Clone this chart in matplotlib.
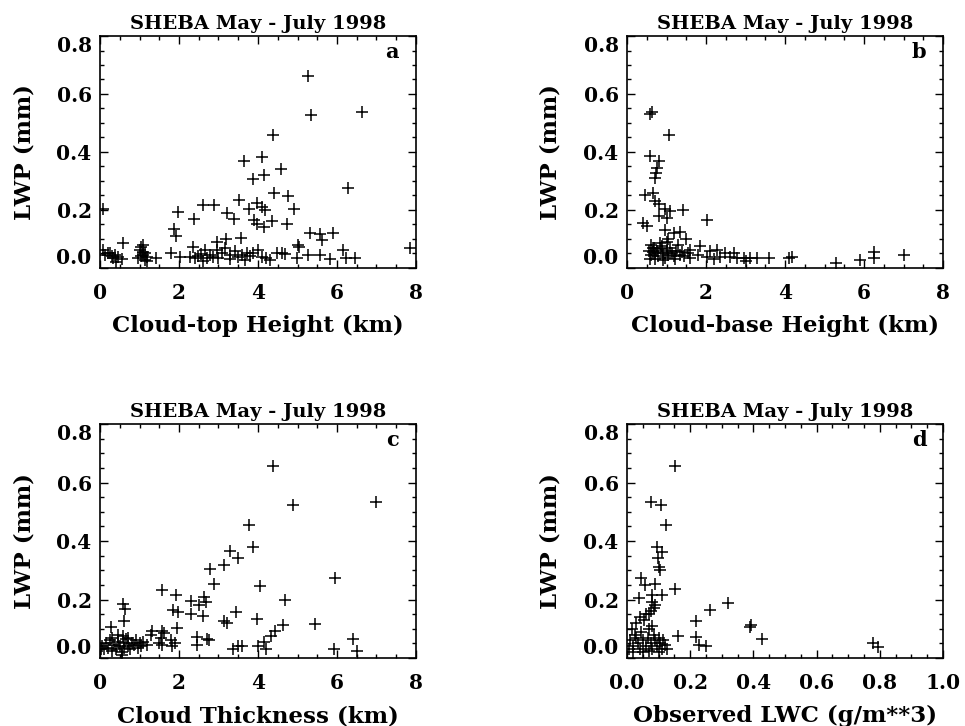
import matplotlib
matplotlib.use('Agg')
import matplotlib.pyplot as plt
from matplotlib.ticker import MultipleLocator, FormatStrFormatter

title_text = 'SHEBA May - July 1998'
y_label = 'LWP (mm)'
x_labels = ['Cloud-top Height (km)', 'Cloud-base Height (km)',
            'Cloud Thickness (km)', 'Observed LWC (g/m**3)']
panel_letters = ['a', 'b', 'c', 'd']

# ---- panel a: cloud-top height (km) vs LWP (mm)
top_height = [5.27, 5.34, 6.64, 4.39, 3.65, 4.09, 4.57, 3.88, 4.14, 6.29, 0.08, 1.98, 2.62, 2.89,
              2.38, 3.52, 3.76, 3.98, 4.09, 4.18, 4.41, 4.75, 4.92, 3.21, 3.39, 3.91, 3.97, 4.14,
              4.35, 4.73, 1.88, 1.92, 5.32, 5.57, 5.61, 5.89, 3.57, 3.19, 2.95, 2.35, 0.59, 1.10,
              5.02, 7.85,
              0.08, 0.25, 0.38, 0.46, 0.34, 0.13, 0.55, 1.01, 1.10, 0.97, 1.18, 1.05, 1.14, 1.43,
              1.81, 2.03, 2.28, 2.41, 2.49, 2.66, 2.78, 2.87, 2.70, 2.95, 3.08, 3.16, 3.29, 3.42,
              3.50, 3.67, 3.71, 3.88, 4.01, 4.09, 4.30, 4.47, 4.60, 4.68, 4.98, 5.05, 5.27, 5.57,
              5.82, 6.16, 6.24, 6.46, 1.05, 1.20, 0.40, 2.60, 3.30, 3.00, 3.80, 0.30, 1.08, 2.55,
              3.60, 4.20, 0.20, 1.15]
top_lwp = [0.661, 0.528, 0.537, 0.458, 0.369, 0.383, 0.343, 0.308, 0.321, 0.277, 0.204, 0.192,
           0.216, 0.216, 0.170, 0.236, 0.204, 0.225, 0.209, 0.201, 0.257, 0.248, 0.204, 0.190,
           0.170, 0.164, 0.152, 0.141, 0.163, 0.152, 0.134, 0.111, 0.120, 0.118, 0.097, 0.120,
           0.103, 0.100, 0.091, 0.074, 0.086, 0.080, 0.080, 0.069,
           0.062, 0.053, 0.045, 0.039, 0.034, 0.045, 0.030, 0.062, 0.045, 0.034, 0.039, 0.074,
           0.053, 0.034, 0.051, 0.039, 0.039, 0.034, 0.042, 0.062, 0.045, 0.039, 0.034, 0.062,
           0.051, 0.068, 0.045, 0.057, 0.039, 0.028, 0.051, 0.051, 0.062, 0.039, 0.028, 0.051,
           0.053, 0.047, 0.034, 0.074, 0.045, 0.045, 0.030, 0.062, 0.034, 0.034, 0.040, 0.025,
           0.020, 0.025, 0.030, 0.035, 0.040, 0.040, 0.055, 0.048, 0.045, 0.036, 0.050, 0.028]

# ---- panel b: cloud-base height (km) vs LWP (mm)
base_height = [0.57, 0.63, 1.07, 0.57, 0.80, 0.75, 0.74, 0.71, 0.46, 0.67, 0.71, 0.82, 0.96, 1.09,
               1.43, 2.02, 0.80, 1.01, 0.41, 0.50, 0.96, 1.18, 1.35, 1.50, 1.05, 0.84, 1.00,
               0.55, 0.62, 0.68, 0.72, 0.78, 0.85, 0.90, 0.95, 1.00, 1.05, 1.10, 1.15, 1.20, 1.25,
               1.30, 1.35, 1.40, 0.60, 0.70, 0.88, 1.45, 0.75, 0.65, 1.55, 1.60,
               1.85, 1.60, 2.11, 2.28, 2.49, 2.02, 2.36, 2.61, 2.78, 2.95, 3.12, 3.29, 3.59, 4.18,
               5.28, 5.91, 6.25, 6.25, 7.01, 2.20, 1.80, 2.70, 3.00, 4.10, 0.58, 0.92, 1.22, 0.66]
base_lwp = [0.531, 0.537, 0.458, 0.387, 0.369, 0.346, 0.329, 0.311, 0.251, 0.257, 0.230, 0.219,
            0.205, 0.196, 0.201, 0.164, 0.178, 0.172, 0.155, 0.144, 0.132, 0.120, 0.123, 0.100,
            0.100, 0.086, 0.088,
            0.060, 0.045, 0.070, 0.050, 0.040, 0.065, 0.050, 0.035, 0.060, 0.045, 0.070, 0.050,
            0.040, 0.060, 0.080, 0.045, 0.055, 0.080, 0.030, 0.075, 0.040, 0.060, 0.055, 0.050,
            0.035,
            0.076, 0.062, 0.057, 0.062, 0.053, 0.039, 0.039, 0.039, 0.034, 0.034, 0.034, 0.034,
            0.034, 0.039, 0.016, 0.028, 0.054, 0.034, 0.045, 0.030, 0.045, 0.050, 0.025, 0.035,
            0.030, 0.028, 0.032, 0.068]

# ---- panel c: cloud thickness (km) vs LWP (mm)
thickness = [4.37, 4.89, 6.99, 3.78, 3.88, 3.30, 3.49, 3.15, 2.79, 2.88, 5.96, 4.05, 1.57, 1.92,
             2.64, 2.68, 2.30, 2.51, 4.69, 0.59, 0.64, 1.86, 1.98, 2.30, 2.60, 3.44, 3.97, 3.15,
             3.22, 0.60, 0.28, 4.64, 5.45, 1.95, 1.32, 1.57, 4.44, 4.33, 6.41, 5.92, 6.50, 2.46,
             2.46, 2.72, 2.76, 1.50, 1.58, 1.82, 3.36, 3.50, 3.60, 4.00, 4.15, 4.20,
             0.05, 0.10, 0.15, 0.20, 0.25, 0.30, 0.35, 0.40, 0.45, 0.50, 0.55, 0.60, 0.62, 0.65,
             0.70, 0.75, 0.80, 0.85, 0.90, 0.95, 1.00, 1.05, 1.10, 1.20, 0.58, 0.45, 0.30, 0.70,
             1.30, 1.55, 1.62, 1.80, 1.90, 0.02, 0.55]
thick_lwp = [0.658, 0.523, 0.534, 0.453, 0.380, 0.366, 0.343, 0.318, 0.303, 0.253, 0.272, 0.245,
             0.234, 0.214, 0.210, 0.193, 0.195, 0.182, 0.199, 0.185, 0.166, 0.164, 0.158, 0.149,
             0.145, 0.156, 0.133, 0.126, 0.118, 0.126, 0.106, 0.114, 0.116, 0.101, 0.091, 0.091,
             0.091, 0.074, 0.066, 0.031, 0.025, 0.072, 0.043, 0.066, 0.060, 0.050, 0.045, 0.040,
             0.030, 0.040, 0.040, 0.040, 0.055, 0.030,
             0.040, 0.030, 0.050, 0.035, 0.060, 0.025, 0.045, 0.030, 0.055, 0.040, 0.020, 0.050,
             0.035, 0.065, 0.040, 0.030, 0.050, 0.045, 0.060, 0.035, 0.050, 0.040, 0.055, 0.045,
             0.075, 0.080, 0.070, 0.070, 0.080, 0.070, 0.085, 0.060, 0.050, 0.030, 0.010]

# ---- panel d: observed LWC (g/m**3) vs LWP (mm)
lwc = [0.151, 0.075, 0.107, 0.124, 0.096, 0.112, 0.099, 0.101, 0.103, 0.043, 0.057, 0.089,
       0.151, 0.112, 0.078, 0.038, 0.080, 0.085, 0.070, 0.090, 0.321, 0.262, 0.217, 0.389,
       0.391, 0.428, 0.161, 0.219, 0.228, 0.249, 0.780, 0.795,
       0.005, 0.010, 0.015, 0.020, 0.025, 0.030, 0.035, 0.040, 0.045, 0.050, 0.055, 0.060,
       0.065, 0.070, 0.075, 0.080, 0.085, 0.090, 0.095, 0.100, 0.105, 0.110, 0.115, 0.120,
       0.060, 0.075, 0.040, 0.020, 0.050, 0.100, 0.030, 0.070, 0.125, 0.080]
lwc_lwp = [0.655, 0.534, 0.523, 0.455, 0.380, 0.364, 0.343, 0.310, 0.300, 0.274, 0.251, 0.253,
           0.236, 0.216, 0.214, 0.205, 0.190, 0.170, 0.150, 0.180, 0.187, 0.164, 0.126, 0.106,
           0.112, 0.066, 0.074, 0.072, 0.043, 0.040, 0.052, 0.037,
           0.030, 0.060, 0.100, 0.040, 0.080, 0.120, 0.050, 0.030, 0.090, 0.060, 0.130, 0.040,
           0.070, 0.100, 0.050, 0.030, 0.080, 0.060, 0.040, 0.070, 0.050, 0.030, 0.060, 0.045,
           0.150, 0.160, 0.140, 0.020, 0.020, 0.020, 0.070, 0.025, 0.030, 0.110]

panels = [(top_height, top_lwp), (base_height, base_lwp), (thickness, thick_lwp), (lwc, lwc_lwp)]

FONT = ['DejaVu Serif']
W, H = 965, 726
fig = plt.figure(figsize=(W / 100, H / 100), dpi=100)

col_left = [100, 627]
row_top = [(36, 268), (424, 658)]
ax_w = 316

for i, (xs, ys) in enumerate(panels):
    r, c = divmod(i, 2)
    top, bot = row_top[r]
    ax = fig.add_axes([col_left[c] / W, 1 - bot / H, ax_w / W, (bot - top) / H])
    ax.plot(xs, ys, linestyle='none', marker='+', markersize=8, markeredgewidth=1.1,
            color='black')
    ax.set_ylim(0, 0.8)
    if i == 3:
        ax.set_xlim(0, 1.0)
        ax.xaxis.set_major_locator(MultipleLocator(0.2))
        ax.xaxis.set_minor_locator(MultipleLocator(0.05))
        ax.xaxis.set_major_formatter(FormatStrFormatter('%.1f'))
    else:
        ax.set_xlim(0, 8)
        ax.xaxis.set_major_locator(MultipleLocator(2))
        ax.xaxis.set_minor_locator(MultipleLocator(0.5))
        ax.xaxis.set_major_formatter(FormatStrFormatter('%d'))
    ax.set_yticks([0.0, 0.2, 0.4, 0.6, 0.8])
    ax.yaxis.set_minor_locator(MultipleLocator(0.05))
    ax.yaxis.set_major_formatter(FormatStrFormatter('%.1f'))
    ax.tick_params(which='both', direction='in', top=True, right=True, width=1.0)
    ax.tick_params(which='major', length=6)
    ax.tick_params(which='minor', length=3)
    ax.tick_params(axis='x', which='major', pad=11)
    ax.tick_params(axis='y', which='major', pad=6)
    for lab in ax.get_xticklabels() + ax.get_yticklabels():
        lab.set_fontfamily(FONT)
        lab.set_fontweight('bold')
        lab.set_fontsize(14.5)
    ylabs = ax.get_yticklabels()
    ylabs[0].set_verticalalignment('bottom')
    ylabs[-1].set_verticalalignment('top')
    for s in ax.spines.values():
        s.set_linewidth(1.2)
    ax.set_title(title_text, family=FONT, fontweight='bold', fontsize=14, pad=5)
    ax.set_xlabel(x_labels[i], family=FONT, fontweight='bold', fontsize=16.5, va='center')
    ax.xaxis.set_label_coords(0.5, -58 / (bot - top))
    ax.set_ylabel(y_label, family=FONT, fontweight='bold', fontsize=16.5, va='center')
    ax.yaxis.set_label_coords(-76 / ax_w, 0.5)
    ax.text(0.925, 0.93, panel_letters[i], transform=ax.transAxes, ha='center', va='center',
            family=FONT, fontweight='bold', fontsize=15)

fig.savefig('out.png', dpi=100, facecolor='white')
